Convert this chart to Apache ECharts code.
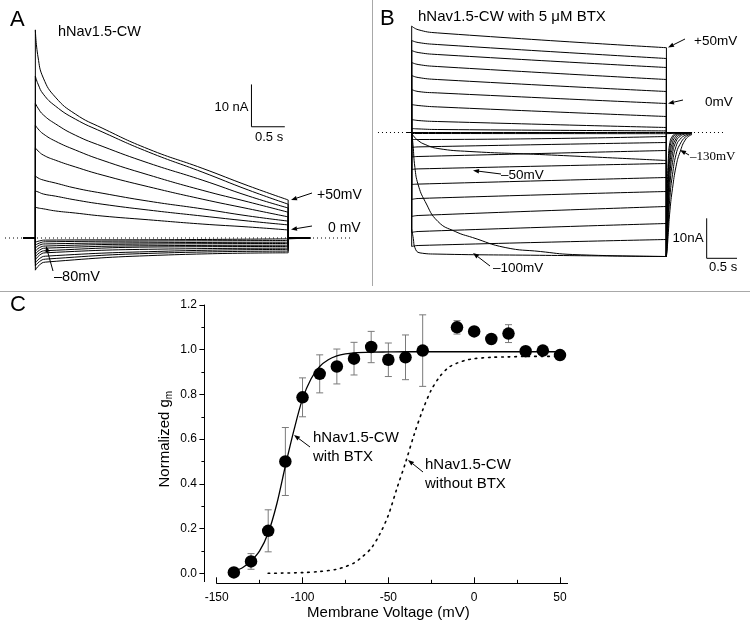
<!DOCTYPE html>
<html><head><meta charset="utf-8">
<script src="https://cdn.jsdelivr.net/npm/echarts@6/dist/echarts.min.js"></script>
<style>html,body{margin:0;padding:0;background:#fff}#c{width:750px;height:632px}</style>
</head><body><div id="c"></div>
<script>
// ===== Panel A: hNav1.5-CW (time in s, current in nA) =====
const A_T_OUT = [0, 0.04, 0.12, 0.3, 0.6, 1.0, 1.7, 2.5, 3.2, 3.79];
const A_OUT_1 = [49.2, 42.8, 37.8, 33.3, 29.3, 26.0, 21.0, 16.5, 12.3, 9.0];
const A_OUT_2 = [38.3, 36.4, 34.0, 31.2, 28.1, 25.1, 20.3, 15.6, 11.3, 8.0];
const A_OUT_3 = [31.9, 30.7, 29.1, 27.0, 24.3, 21.7, 17.7, 13.7, 9.9, 7.1];
const A_OUT_4 = [26.7, 25.8, 24.6, 22.9, 20.8, 18.4, 14.9, 11.3, 8.5, 6.1];
const A_OUT_5 = [21.3, 20.6, 19.6, 18.4, 16.8, 14.9, 12.1, 9.2, 6.9, 5.0];
const A_OUT_6 = [14.7, 14.2, 13.7, 13.0, 11.8, 10.6, 8.7, 6.9, 5.2, 4.0];
const A_OUT_7 = [11.1, 10.9, 10.4, 9.9, 9.0, 8.0, 6.6, 5.2, 4.0, 3.1];
const A_OUT_8 = [7.3, 7.1, 6.9, 6.4, 5.9, 5.2, 4.3, 3.3, 2.6, 1.9];
const A_T_IN = [0, 0.06, 0.15, 2.0, 3.79];
const A_IN_1 = [-7.6, -6.4, -5.7, -4.0, -3.5];
const A_IN_2 = [-6.6, -5.6, -5.0, -3.5, -3.1];
const A_IN_3 = [-5.9, -4.9, -4.3, -3.1, -2.7];
const A_IN_4 = [-5.2, -4.1, -3.5, -2.6, -2.4];
const A_IN_5 = [-4.5, -3.5, -3.0, -2.1, -2.0];
const A_IN_6 = [-3.8, -2.9, -2.4, -1.8, -1.7];
const A_IN_7 = [-3.1, -2.3, -1.9, -1.4, -1.3];
const A_IN_8 = [-2.4, -1.7, -1.4, -1.1, -1.0];
const A_IN_9 = [-1.7, -1.2, -0.9, -0.7, -0.6];
const A_IN_10 = [-1.0, -0.7, -0.5, -0.4, -0.2];
const A_PRE = -0.185, A_END = 3.79, A_POST = 4.12;
const A_ZERO_LINE = [-0.455, 4.76];
const A_SCALE = [3.24, 26.3];          // corner of scale bar (s, nA)
const A_SCALE_SIZE = [0.5, 10];        // 0.5 s, 10 nA

// ===== Panel B: hNav1.5-CW with 5 uM BTX =====
const B_T_OUT = [0, 0.1, 0.4, 3.98];
const B_OUT_1 = [26.6, 25.7, 24.9, 21.2];
const B_OUT_2 = [23.0, 22.5, 22.0, 18.5];
const B_OUT_3 = [20.5, 20.0, 19.5, 16.25];
const B_OUT_4 = [17.5, 17.0, 16.5, 13.25];
const B_OUT_5 = [14.25, 13.75, 13.25, 10.25];
const B_OUT_6 = [10.75, 10.25, 9.9, 7.25];
const B_OUT_7 = [7.0, 6.75, 6.4, 4.0];
const B_OUT_8 = [3.25, 3.0, 2.75, 1.25];
const B_OUT_9 = [1.0, 0.9, 0.75, 0.4];
const B_T_IN = [0, 0.1, 3.98];
const B_IN_1 = [-1.75, -1.75, -1.0];
const B_IN_2 = [-3.75, -3.6, -2.5];
const B_IN_3 = [-6.1, -6.0, -4.5];
const B_IN_4 = [-9.25, -9.1, -7.75];
const B_IN_5 = [-13.0, -12.9, -11.25];
const B_IN_6 = [-16.75, -16.5, -14.75];
const B_IN_7 = [-21.0, -20.75, -18.5];
const B_IN_8 = [-25.0, -24.75, -22.75];
const B_IN_9 = [-28.5, -28.25, -26.75];
const B_T_100 = [0, 0.025, 0.05, 0.13, 0.41, 2.0, 3.98];
const B_I_100 = [-24, -26.5, -28.8, -30.1, -30.4, -30.7, -31];
const B_T_110 = [0, 0.02, 0.05, 0.1, 0.21, 0.41, 0.68, 0.95, 1.46, 2.01, 2.51, 3.98];
const B_I_110 = [0, -3, -8.75, -13, -17.25, -22.25, -24.75, -26.25, -28.75, -29.75, -30.5, -31];
const B_T_120 = [0, 0.023, 0.1, 0.21, 0.41, 0.91, 2.0, 3.98];
const B_I_120 = [0, -0.75, -2, -3, -4, -4.75, -5.5, -7];
const B_T_FLAT = [0, 3.98];
const B_I_130 = [-0.25, -0.3];
const B_I_140 = [0, 0];
const B_T_TAIL = [3.98, 3.995, 4.01, 4.035, 4.075, 4.13, 4.19, 4.285, 4.38];
const B_TAIL_1 = [-31, -14, -6.5, -2.5, -0.9, -0.25, -0.1, 0, 0];
const B_TAIL_2 = [-31, -17, -9.5, -4, -1.5, -0.5, -0.2, -0.05, 0];
const B_TAIL_3 = [-31, -19.5, -12.5, -6, -2.5, -0.9, -0.35, -0.1, 0];
const B_TAIL_4 = [-31, -21.5, -15, -8, -3.75, -1.5, -0.6, -0.2, -0.05];
const B_TAIL_5 = [-31, -23.5, -17.5, -10.5, -5.25, -2.25, -1, -0.3, -0.1];
const B_TAIL_6 = [-31, -25.5, -20, -13, -7.5, -3.5, -1.75, -0.6, -0.2];
const B_TAIL_7 = [-31, -27, -22.5, -16, -10.5, -5.5, -3, -1, -0.35];
const B_TAIL_8 = [-31, -28.5, -25, -19.5, -14, -8.5, -5, -1.6, -0.5];
const B_PRE = -0.07, B_END = 3.98, B_POST = 4.38;
const B_ZERO_LINE = [-0.527, 4.864];
const B_SCALE = [4.609, -31.45];
const B_SCALE_SIZE = [0.5, 10];

// ===== Panel C: normalized conductance =====
const C_V = [-140, -130, -120, -110, -100, -90, -80, -70, -60, -50, -40, -30, -10, 0, 10, 20, 30, 40, 50];
const C_G = [0.004, 0.053, 0.19, 0.50, 0.787, 0.892, 0.925, 0.96, 1.012, 0.955, 0.966, 0.996, 1.10, 1.082, 1.048, 1.072, 0.993, 0.996, 0.976];
const C_ERR = [0, 0.035, 0.094, 0.152, 0.087, 0.085, 0.078, 0.073, 0.07, 0.075, 0.1, 0.16, 0.03, 0, 0, 0.04, 0, 0.02, 0.02];
const FIT_V = [-140, -135, -130, -125, -120, -115, -110, -105, -100, -95, -90, -85, -80, -75, -70, -60, -50, -40, -20, 0, 20, 55];
const FIT_BTX = [0.01, 0.025, 0.055, 0.10, 0.18, 0.31, 0.48, 0.64, 0.78, 0.87, 0.925, 0.955, 0.972, 0.981, 0.986, 0.989, 0.99, 0.991, 0.991, 0.991, 0.991, 0.991];
const NOBTX_V = [-120, -100, -90, -80, -75, -70, -65, -60, -55, -50, -45, -40, -35, -30, -25, -20, -15, -10, -5, 0, 10, 20, 30, 40, 50, 55];
const NOBTX_G = [0.0, 0.003, 0.008, 0.018, 0.03, 0.046, 0.075, 0.112, 0.175, 0.26, 0.38, 0.495, 0.62, 0.73, 0.82, 0.88, 0.92, 0.94, 0.953, 0.96, 0.966, 0.968, 0.97, 0.97, 0.97, 0.97];
const C_X_TICKS = [-150, 50, 50];   // min, max, interval
const C_Y_TICKS = [0, 1.2, 0.2];

// ===== build =====
const FONT = "'Liberation Sans', Arial, Helvetica, sans-serif";
const BLACK = '#000';
const zip = (ts, vs) => ts.map((t, i) => [t, vs[i]]);
function line(g, data, opt) {
  return Object.assign({
    type: 'line', xAxisIndex: g, yAxisIndex: g, data, symbol: 'none', silent: true,
    animation: false, lineStyle: { color: BLACK, width: 1 }, z: 3
  }, opt || {});
}
const curve = (g, ts, vs) => line(g, zip(ts, vs), { smooth: 0.5 });
const series = [];

// Panel A
const aOut = [A_OUT_1, A_OUT_2, A_OUT_3, A_OUT_4, A_OUT_5, A_OUT_6, A_OUT_7, A_OUT_8];
const aIn = [A_IN_1, A_IN_2, A_IN_3, A_IN_4, A_IN_5, A_IN_6, A_IN_7, A_IN_8, A_IN_9, A_IN_10];
series.push(line(0, [[A_ZERO_LINE[0], 0], [A_ZERO_LINE[1], 0]], { lineStyle: { color: BLACK, width: 1, type: [1, 3] }, z: 2 }));
function aTrace(ts, vs) {
  const n = vs.length;
  series.push(line(0, [[A_PRE, 0], [0, 0], [0, vs[0]]]));
  series.push(curve(0, ts, vs));
  series.push(line(0, [[A_END, vs[n - 1]], [A_END, 0], [A_POST, 0]]));
}
aOut.forEach(v => aTrace(A_T_OUT, v));
aIn.forEach(v => aTrace(A_T_IN, v));
series.push(line(0, [[A_SCALE[0], A_SCALE[1] + A_SCALE_SIZE[1]], [A_SCALE[0], A_SCALE[1]], [A_SCALE[0] + A_SCALE_SIZE[0], A_SCALE[1]]]));

// Panel B
series.push(line(1, [[B_ZERO_LINE[0], 0], [B_ZERO_LINE[1], 0]], { lineStyle: { color: BLACK, width: 1, type: [1, 3] }, z: 2 }));
const TAIL0 = B_TAIL_1[0];
function bTrace(ts, vs, tail) {
  const n = vs.length;
  series.push(line(1, [[B_PRE, 0], [0, 0], [0, vs[0]]]));
  series.push(curve(1, ts, vs));
  if (tail) series.push(line(1, [[B_END, vs[n - 1]], [B_END, TAIL0]]));
  else series.push(line(1, [[B_END, vs[n - 1]], [B_END, 0], [B_POST, 0]]));
}
[B_OUT_1, B_OUT_2, B_OUT_3, B_OUT_4, B_OUT_5, B_OUT_6, B_OUT_7, B_OUT_8, B_OUT_9].forEach(v => bTrace(B_T_OUT, v, true));
[B_IN_1, B_IN_2, B_IN_3, B_IN_4, B_IN_5, B_IN_6, B_IN_7, B_IN_8, B_IN_9].forEach(v => bTrace(B_T_IN, v, true));
bTrace(B_T_100, B_I_100, true);
bTrace(B_T_110, B_I_110, true);
bTrace(B_T_120, B_I_120, true);
bTrace(B_T_FLAT, B_I_130, false);
bTrace(B_T_FLAT, B_I_140, false);
[B_TAIL_1, B_TAIL_2, B_TAIL_3, B_TAIL_4, B_TAIL_5, B_TAIL_6, B_TAIL_7, B_TAIL_8].forEach(v => series.push(curve(1, B_T_TAIL, v)));
series.push(line(1, [[B_SCALE[0], B_SCALE[1] + B_SCALE_SIZE[1]], [B_SCALE[0], B_SCALE[1]], [B_SCALE[0] + B_SCALE_SIZE[0], B_SCALE[1]]]));

// Panel C
series.push(line(2, zip(NOBTX_V, NOBTX_G), { smooth: 0.3, lineStyle: { color: BLACK, width: 1.6, type: [1.6, 5], cap: 'round' } }));
series.push({
  type: 'custom', xAxisIndex: 2, yAxisIndex: 2, silent: true, animation: false, z: 4,
  data: C_V.map((v, i) => [v, C_G[i], C_ERR[i]]),
  renderItem(params, api) {
    const x = api.value(0), y = api.value(1), e = api.value(2);
    if (!e) return null;
    const t = api.coord([x, y + e]), b = api.coord([x, y - e]), w = 3.5;
    const st = { stroke: '#7a7a7a', lineWidth: 1 };
    return { type: 'group', children: [
      { type: 'line', shape: { x1: t[0], y1: t[1], x2: b[0], y2: b[1] }, style: st },
      { type: 'line', shape: { x1: t[0] - w, y1: t[1], x2: t[0] + w, y2: t[1] }, style: st },
      { type: 'line', shape: { x1: b[0] - w, y1: b[1], x2: b[0] + w, y2: b[1] }, style: st }
    ] };
  }
});
series.push(line(2, zip(FIT_V, FIT_BTX), { smooth: 0.3, lineStyle: { color: BLACK, width: 1.3 }, z: 5 }));
series.push({
  type: 'scatter', xAxisIndex: 2, yAxisIndex: 2, data: zip(C_V, C_G), symbol: 'circle', symbolSize: 12.5,
  itemStyle: { color: BLACK, opacity: 1 }, silent: true, animation: false, z: 6, clip: false
});

// graphics: labels & arrows
const G = [];
function txt(x, y, s, size, extra) {
  G.push({ type: 'text', x, y, silent: true, z: 10,
    style: Object.assign({ text: s, fontSize: size, fontFamily: FONT, fill: BLACK, align: 'left', verticalAlign: 'middle' }, extra || {}) });
}
function arrow(x1, y1, x2, y2) {
  const dx = x2 - x1, dy = y2 - y1, L = Math.hypot(dx, dy), ux = dx / L, uy = dy / L;
  const hl = 6, hw = 2.3, bx = x2 - ux * hl, by = y2 - uy * hl;
  G.push({ type: 'line', silent: true, z: 10, shape: { x1, y1, x2: bx, y2: by }, style: { stroke: BLACK, lineWidth: 1 } });
  G.push({ type: 'polygon', silent: true, z: 10, shape: { points: [[x2, y2], [bx - uy * hw, by + ux * hw], [bx + uy * hw, by - ux * hw]] }, style: { fill: BLACK } });
}
function seg(x1, y1, x2, y2, color) {
  G.push({ type: 'line', silent: true, z: 1, shape: { x1, y1, x2, y2 }, style: { stroke: color, lineWidth: 1 } });
}
seg(372.5, 0, 372.5, 286, '#a8a8a8');
seg(0, 291.5, 750, 291.5, '#a8a8a8');
seg(560, 583.5, 568, 583.5, BLACK);
seg(204.5, 573, 204.5, 582, BLACK);
txt(10, 20, 'A', 22);
txt(380, 19, 'B', 22);
txt(10, 305, 'C', 22);
// A
txt(58, 32, 'hNav1.5-CW', 14.5);
txt(248.5, 107, '10 nA', 13, { align: 'right' });
txt(255, 137, '0.5 s', 13);
txt(317, 195, '+50mV', 14);
txt(328, 228, '0 mV', 14);
txt(54, 277, '\u201380mV', 14.5);
arrow(312, 193, 291, 200);
arrow(312, 226, 291, 229.5);
arrow(53, 271, 46, 246);
// B
txt(418, 17, 'hNav1.5-CW with 5 \u03bcM BTX', 15);
txt(694, 41, '+50mV', 13.5);
txt(705, 102, '0mV', 13.5);
txt(690, 157, '\u2013130mV', 13, { fontFamily: "'Liberation Serif', 'Times New Roman', serif" });
txt(501, 175, '\u201350mV', 13.5);
txt(493, 268, '\u2013100mV', 13.5);
txt(703.5, 238, '10nA', 13.3, { align: 'right' });
txt(709, 267, '0.5 s', 13);
arrow(685, 39, 668, 47.5);
arrow(683, 100, 668, 103.5);
arrow(689, 155, 680, 150);
arrow(501, 174, 473, 170.5);
arrow(490, 266, 473, 253);
// C
txt(313, 438, 'hNav1.5-CW', 15);
txt(313, 457, 'with BTX', 15);
txt(425, 465, 'hNav1.5-CW', 15);
txt(425, 484, 'without BTX', 15);
arrow(310, 447, 294, 435);
arrow(423, 472, 408, 460);

const option = {
  backgroundColor: '#fff',
  animation: false,
  grid: [
    { left: 2, top: 20, width: 360, height: 270 },
    { left: 376, top: 10, width: 360, height: 270 },
    { left: 216.7, top: 305, width: 343.3, height: 268.3 }
  ],
  xAxis: [
    { gridIndex: 0, type: 'value', min: -0.5, max: 4.8973, show: false },
    { gridIndex: 1, type: 'value', min: -0.5578, max: 5.0672, show: false },
    { gridIndex: 2, type: 'value', min: C_X_TICKS[0], max: C_X_TICKS[1], interval: C_X_TICKS[2], offset: 10,
      axisLine: { show: true, onZero: false, lineStyle: { color: BLACK, width: 1 } },
      axisTick: { show: true, inside: true, length: 6, lineStyle: { color: BLACK } },
      minorTick: { show: true, splitNumber: 2, length: 3.5, lineStyle: { color: BLACK } },
      splitLine: { show: false },
      axisLabel: { color: BLACK, fontSize: 12, fontFamily: FONT, margin: 8 },
      name: 'Membrane Voltage (mV)', nameLocation: 'middle', nameGap: 22,
      nameTextStyle: { color: BLACK, fontSize: 15, fontFamily: FONT } }
  ],
  yAxis: [
    { gridIndex: 0, type: 'value', min: -12.293, max: 51.537, show: false },
    { gridIndex: 1, type: 'value', min: -36.875, max: 30.625, show: false },
    { gridIndex: 2, type: 'value', min: C_Y_TICKS[0], max: C_Y_TICKS[1], interval: C_Y_TICKS[2], offset: 12.3,
      axisLine: { show: true, onZero: false, lineStyle: { color: BLACK, width: 1 } },
      axisTick: { show: true, inside: false, length: 5, lineStyle: { color: BLACK } },
      minorTick: { show: true, splitNumber: 2, length: 3, lineStyle: { color: BLACK } },
      splitLine: { show: false },
      axisLabel: { color: BLACK, fontSize: 12, fontFamily: FONT, margin: 7.5, formatter: v => v.toFixed(1) },
      name: '{a|Normalized g}{b|m}', nameLocation: 'middle', nameGap: 30,
      nameTextStyle: { color: BLACK, fontFamily: FONT,
        rich: { a: { fontSize: 15, fontFamily: FONT, color: BLACK }, b: { fontSize: 10, fontFamily: FONT, color: BLACK, padding: [9, 0, 0, 0] } } } }
  ],
  series,
  graphic: { elements: G }
};
const chart = echarts.init(document.getElementById('c'), null, { renderer: 'canvas' });
chart.setOption(option);
</script></body></html>
